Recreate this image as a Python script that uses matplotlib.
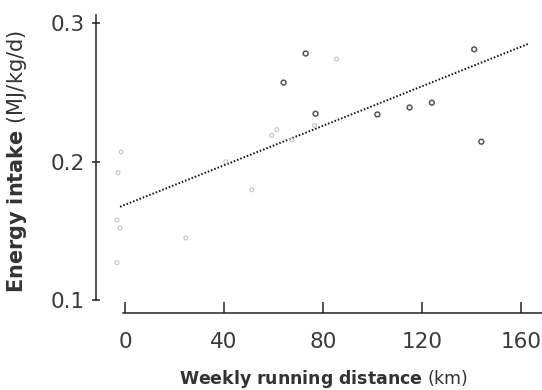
import numpy as np
import matplotlib.pyplot as plt

plt.rcParams['mathtext.fontset'] = 'custom'
plt.rcParams['mathtext.bf'] = 'DejaVu Sans:bold'
plt.rcParams['mathtext.rm'] = 'DejaVu Sans'

# darker (printed) points
dist_dark = [141.1, 73.0, 64.1, 77.0, 102.0, 115.0, 124.0, 144.0]
energy_dark = [0.281, 0.278, 0.257, 0.2345, 0.234, 0.239, 0.2425, 0.2143]

# faint points
dist_light = [85.5, 76.6, 59.3, 61.3, 67.3, 40.7, 51.2, 24.6, -3.2, -2.0, -3.2, -1.6, -2.8]
energy_light = [0.274, 0.226, 0.219, 0.223, 0.2157, 0.1998, 0.1796, 0.1448,
                0.1578, 0.152, 0.127, 0.207, 0.192]

# trend line end points
trend_x = [-2.0, 163.3]
trend_y = [0.1673, 0.2852]

x_ticks = [0, 40, 80, 120, 160]
x_labels = ['0', '40', '80', '120', '160']
y_ticks = [0.1, 0.2, 0.3]
y_labels = ['0.1', '0.2', '0.3']

fig = plt.figure(figsize=(5.42, 3.90), dpi=100)
ax = fig.add_axes([96 / 542, 77 / 390, 446 / 542, 298 / 390])

ax.plot(trend_x, trend_y, color='#111111', lw=1.4, linestyle=(0, (0.8, 1.0)))
ax.scatter(dist_dark, energy_dark, s=12, facecolor='none', edgecolor='#555555',
           linewidths=1.1, zorder=3)
ax.scatter(dist_light, energy_light, s=8, facecolor='none', edgecolor='#c4c4c4',
           linewidths=0.8, zorder=3)

ax.set_xlim(-11.7, 168.5)
ax.set_ylim(0.0906, 0.3058)

for side in ['top', 'right']:
    ax.spines[side].set_visible(False)
ax.spines['left'].set_bounds(0.1, 0.3058)
ax.spines['bottom'].set_bounds(-0.6, 168.5)
for side in ['left', 'bottom']:
    ax.spines[side].set_linewidth(1.1)
    ax.spines[side].set_color('#222222')

ax.set_xticks(x_ticks)
ax.set_xticklabels(x_labels)
ax.set_yticks(y_ticks)
ax.set_yticklabels(y_labels)
ax.tick_params(axis='x', direction='in', length=8, width=1.1, pad=14,
               labelsize=15.5, colors='#222222', labelcolor='#3a3a3a')
ax.tick_params(axis='y', direction='inout', length=6, width=1.1, pad=5,
               labelsize=15.5, colors='#222222', labelcolor='#3a3a3a')

ax.set_xlabel(r"$\mathbf{Weekly\ running\ distance}$ (km)", fontsize=12.5,
              color='#333333', va='top')
ax.xaxis.set_label_coords(0.51, -0.185)
ax.set_ylabel(r"$\mathbf{Energy\ intake}$ (MJ/kg/d)", fontsize=15,
              color='#333333')
ax.yaxis.set_label_coords(-0.151, 0.507)

fig.savefig('out.png', dpi=100)
